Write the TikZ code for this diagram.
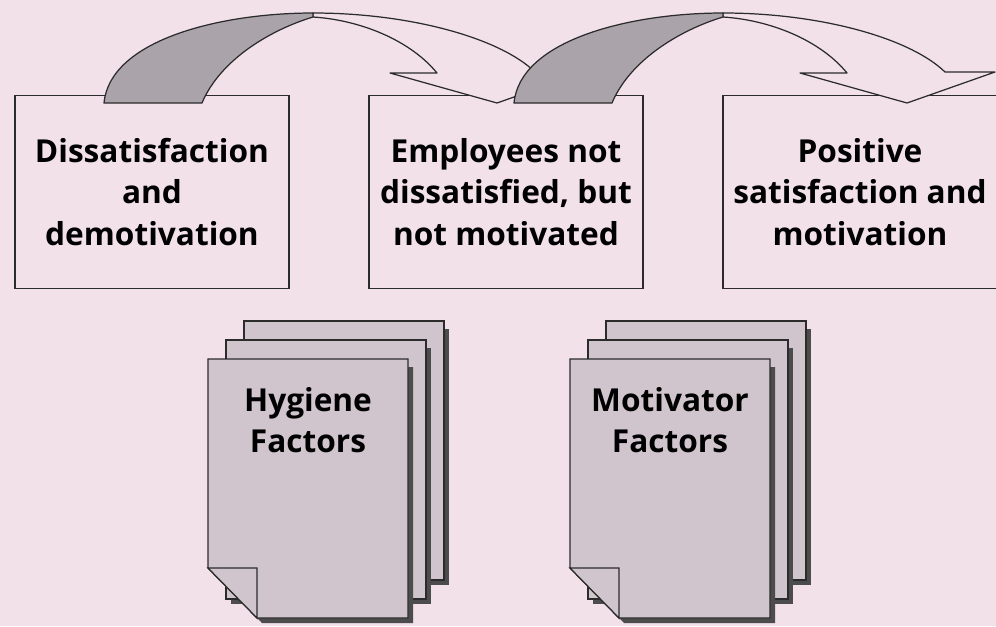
\documentclass[tikz,border=0pt]{standalone}
\usepackage{fontspec}
\setmainfont{Open Sans}

\definecolor{bgpink}{HTML}{F2E1E9}
\definecolor{inkgray}{HTML}{2B2B2B}
\definecolor{ribbon}{HTML}{ABA3AA}
\definecolor{sheet}{HTML}{D0C5CC}
\definecolor{sheetshadow}{HTML}{4C4C4C}

\tikzset{
  state/.style={draw=inkgray, fill=bgpink, line width=0.8pt,
    minimum width=5.48cm, minimum height=3.86cm, align=center,
    font=\bfseries\fontsize{18}{23.5}\selectfont},
  factor/.style={align=center, font=\bfseries\fontsize{18}{23.5}\selectfont},
  sheetline/.style={draw=inkgray, line width=0.7pt, fill=sheet},
  ribbonline/.style={draw=inkgray, line width=0.7pt, line join=round},
}

% one stack of three sheets, front one with a folded corner
\newcommand\sheetstack[3]{%
  \begin{scope}[shift={(#1,0)}]
    \foreach \dx/\dy in {36/-38,18/-19} {
      \fill[sheetshadow] (213+\dx,367+\dy) rectangle (413+\dx,623+\dy);
      \path[sheetline] (208+\dx,359+\dy) rectangle (408+\dx,618+\dy);
    }
    \fill[sheetshadow] (213,367) -- (413,367) -- (413,623) -- (262,623) -- (213,573) -- cycle;
    \path[sheetline] (208,359) -- (408,359) -- (408,618) -- (257,618) -- (208,568) -- cycle;
    \path[sheetline] (208,568) -- (257,568) -- (257,618) -- cycle;
    \node[factor] (#2) at (308,420) {#3};
  \end{scope}}

% twisted ribbon arrow, grey back face rising, light front face with the head
\newcommand\ribbonarrow[1]{%
  \begin{scope}[shift={(#1,0)}]
    \path[ribbonline, fill=bgpink] (313,13) .. controls (410,13) and (500,38) .. (535,72)
      -- (585,72) -- (497,103) -- (390,73) -- (437,73)
      .. controls (410,40) and (360,20) .. (313,17) -- cycle;
    \path[ribbonline, fill=ribbon] (104,103) .. controls (110,40) and (220,13) .. (313,13)
      -- (313,17) .. controls (270,30) and (220,60) .. (202,103) -- cycle;
  \end{scope}}

\begin{document}
\begin{tikzpicture}[x=0.02cm, y=-0.02cm]
  \fill[bgpink] (0,0) rectangle (996,626);
  \useasboundingbox (0,0) rectangle (996,626);

  \node[state] (dissat) at (152,192) {Dissatisfaction\\and\\demotivation};
  \node[state] (neutral) at (506,192) {Employees not\\dissatisfied, but\\not motivated};
  \node[state] (satis) at (860,192) {Positive\\satisfaction and\\motivation};

  \ribbonarrow{0}
  \ribbonarrow{410}

  \sheetstack{0}{hygiene}{Hygiene\\Factors}
  \sheetstack{362}{motivator}{Motivator\\Factors}
\end{tikzpicture}
\end{document}
